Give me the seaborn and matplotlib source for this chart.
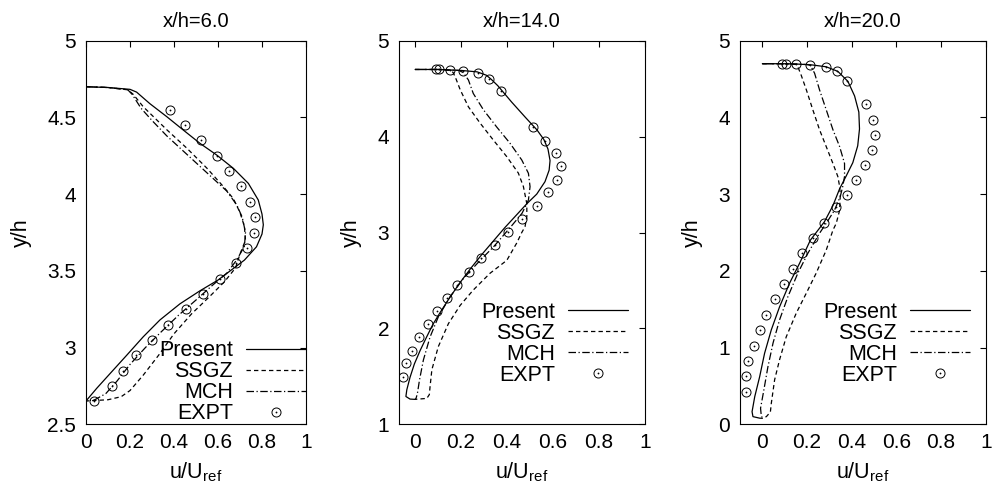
import numpy as np
import pandas as pd
import matplotlib
matplotlib.use("Agg")
import matplotlib.pyplot as plt
import seaborn as sns
from matplotlib.ticker import FormatStrFormatter, MultipleLocator
from matplotlib.legend_handler import HandlerTuple

# ---------------- data ----------------
STATIONS = ["x/h=6.0", "x/h=14.0", "x/h=20.0"]
MODELS = ["Present", "SSGZ", "MCH", "EXPT"]

# x/h = 6.0
P1_PRESENT_U = [0.0, 0.10, 0.20, 0.23, 0.29, 0.367, 0.442, 0.518, 0.594, 0.67, 0.738, 0.783, 0.80, 0.806,
                0.80, 0.775, 0.72, 0.66, 0.60, 0.518, 0.427, 0.336, 0.26, 0.185, 0.109, 0.049, 0.0]
P1_PRESENT_Y = [4.70, 4.695, 4.683, 4.665, 4.59, 4.505, 4.418, 4.331, 4.255, 4.168, 4.07, 3.962, 3.87, 3.80,
                3.74, 3.657, 3.57, 3.505, 3.44, 3.37, 3.285, 3.18, 3.07, 2.95, 2.83, 2.735, 2.652]
P1_SSGZ_U = [0.0, 0.10, 0.19, 0.215, 0.26, 0.367, 0.458, 0.549, 0.624, 0.67, 0.70, 0.72, 0.725, 0.70,
             0.68, 0.63, 0.56, 0.48, 0.40, 0.33, 0.26, 0.20, 0.16, 0.10, 0.0]
P1_SSGZ_Y = [4.70, 4.695, 4.68, 4.65, 4.57, 4.42, 4.30, 4.17, 4.05, 3.97, 3.88, 3.79, 3.70, 3.61,
             3.52, 3.43, 3.33, 3.22, 3.09, 2.95, 2.82, 2.72, 2.68, 2.66, 2.652]
P1_MCH_U = [0.0, 0.10, 0.19, 0.21, 0.25, 0.30, 0.367, 0.458, 0.549, 0.64, 0.685, 0.71, 0.725, 0.72,
            0.685, 0.64, 0.57, 0.50, 0.42, 0.34, 0.27, 0.20, 0.14, 0.09, 0.04, 0.0]
P1_MCH_Y = [4.70, 4.695, 4.68, 4.65, 4.56, 4.48, 4.38, 4.26, 4.14, 4.02, 3.93, 3.85, 3.75, 3.66,
            3.571, 3.485, 3.40, 3.31, 3.21, 3.10, 3.00, 2.89, 2.78, 2.70, 2.66, 2.652]
P1_EXPT_U = [0.035, 0.12, 0.17, 0.226, 0.298, 0.374, 0.455, 0.533, 0.609, 0.68, 0.73, 0.764, 0.768,
             0.747, 0.706, 0.65, 0.594, 0.521, 0.452, 0.382]
P1_EXPT_Y = [2.65, 2.75, 2.85, 2.95, 3.05, 3.15, 3.25, 3.35, 3.45, 3.55, 3.65, 3.75, 3.85,
             3.95, 4.05, 4.15, 4.25, 4.35, 4.45, 4.55]

# x/h = 14.0
P2_PRESENT_U = [0.0, 0.10, 0.20, 0.27, 0.31, 0.33, 0.36, 0.42, 0.48, 0.53, 0.56, 0.578, 0.587, 0.583,
                0.565, 0.529, 0.486, 0.44, 0.39, 0.34, 0.29, 0.24, 0.19, 0.145, 0.11, 0.077, 0.048,
                0.022, -0.003, -0.022, -0.036, -0.04, -0.022, 0.0]
P2_PRESENT_Y = [4.70, 4.70, 4.69, 4.675, 4.64, 4.60, 4.53, 4.36, 4.20, 4.07, 3.97, 3.87, 3.75, 3.65,
                3.53, 3.40, 3.30, 3.18, 3.05, 2.91, 2.77, 2.62, 2.46, 2.30, 2.17, 2.04, 1.90,
                1.77, 1.63, 1.49, 1.36, 1.29, 1.263, 1.26]
P2_SSGZ_U = [0.0, 0.10, 0.15, 0.165, 0.175, 0.196, 0.232, 0.283, 0.34, 0.399, 0.449, 0.471, 0.486,
             0.486, 0.478, 0.464, 0.442, 0.399, 0.326, 0.253, 0.196, 0.145, 0.101, 0.073, 0.065,
             0.062, 0.051, 0.0]
P2_SSGZ_Y = [4.70, 4.70, 4.69, 4.67, 4.62, 4.49, 4.31, 4.14, 3.965, 3.79, 3.62, 3.48, 3.30,
             3.165, 3.06, 3.00, 2.89, 2.71, 2.575, 2.40, 2.24, 2.05, 1.81, 1.57, 1.39,
             1.31, 1.27, 1.26]
P2_MCH_U = [0.0, 0.10, 0.19, 0.21, 0.232, 0.253, 0.297, 0.355, 0.413, 0.464, 0.493, 0.50, 0.493,
            0.486, 0.465, 0.42, 0.341, 0.283, 0.21, 0.152, 0.101, 0.065, 0.036, 0.019, 0.01, 0.004, 0.0]
P2_MCH_Y = [4.70, 4.70, 4.69, 4.667, 4.59, 4.45, 4.28, 4.10, 3.93, 3.756, 3.617, 3.478, 3.34,
            3.30, 3.20, 3.07, 2.85, 2.71, 2.52, 2.33, 2.12, 1.91, 1.67, 1.46, 1.32, 1.27, 1.26]
P2_EXPT_U = [0.091, 0.106, 0.152, 0.21, 0.272, 0.32, 0.374, 0.514, 0.567, 0.612, 0.634, 0.616, 0.58,
             0.529, 0.464, 0.406, 0.348, 0.286, 0.235, 0.184, 0.138, 0.097, 0.055, 0.016, -0.014,
             -0.04, -0.053]
P2_EXPT_Y = [4.70, 4.70, 4.69, 4.684, 4.66, 4.604, 4.479, 4.10, 3.957, 3.826, 3.693, 3.547, 3.419,
             3.276, 3.138, 3.002, 2.87, 2.731, 2.585, 2.456, 2.32, 2.181, 2.046, 1.907, 1.767,
             1.636, 1.496]

# x/h = 20.0
P3_PRESENT_U = [0.0, 0.10, 0.152, 0.22, 0.286, 0.338, 0.383, 0.413, 0.432, 0.435, 0.427, 0.405, 0.376,
                0.346, 0.316, 0.278, 0.215, 0.167, 0.122, 0.077, 0.04, 0.01, -0.012, -0.034, -0.046,
                -0.042, -0.012, 0.0]
P3_PRESENT_Y = [4.70, 4.70, 4.696, 4.685, 4.66, 4.60, 4.47, 4.28, 4.07, 3.85, 3.63, 3.41, 3.24,
                3.07, 2.85, 2.64, 2.40, 2.10, 1.84, 1.53, 1.23, 0.925, 0.62, 0.36, 0.164,
                0.10, 0.08, 0.078]
P3_SSGZ_U = [0.0, 0.10, 0.152, 0.159, 0.174, 0.197, 0.226, 0.256, 0.286, 0.316, 0.338, 0.346, 0.349,
             0.346, 0.331, 0.316, 0.286, 0.241, 0.197, 0.152, 0.107, 0.077, 0.055, 0.04, 0.036,
             0.018, 0.0]
P3_SSGZ_Y = [4.70, 4.70, 4.69, 4.66, 4.55, 4.36, 4.10, 3.84, 3.62, 3.40, 3.23, 3.10, 2.99,
             2.79, 2.62, 2.53, 2.27, 1.97, 1.71, 1.45, 1.14, 0.84, 0.58, 0.27, 0.16,
             0.10, 0.078]
P3_MCH_U = [0.0, 0.10, 0.20, 0.215, 0.234, 0.256, 0.286, 0.316, 0.346, 0.368, 0.368, 0.36, 0.349,
            0.323, 0.286, 0.256, 0.204, 0.159, 0.114, 0.077, 0.048, 0.025, 0.007, -0.008, -0.005, 0.0]
P3_MCH_Y = [4.70, 4.70, 4.69, 4.68, 4.575, 4.36, 4.10, 3.84, 3.62, 3.40, 3.23, 3.10, 2.97,
            2.79, 2.62, 2.49, 2.23, 1.97, 1.66, 1.36, 1.06, 0.75, 0.45, 0.21, 0.12, 0.078]
P3_EXPT_U = [0.089, 0.107, 0.152, 0.215, 0.283, 0.334, 0.38, 0.465, 0.494, 0.503, 0.49, 0.46, 0.42,
             0.377, 0.328, 0.277, 0.226, 0.179, 0.137, 0.097, 0.055, 0.018, -0.009, -0.036, -0.063,
             -0.075, -0.075]
P3_EXPT_Y = [4.70, 4.70, 4.696, 4.683, 4.657, 4.60, 4.475, 4.171, 3.97, 3.771, 3.58, 3.38, 3.18,
             2.99, 2.828, 2.63, 2.424, 2.229, 2.028, 1.829, 1.629, 1.429, 1.229, 1.025, 0.825,
             0.626, 0.425]

XLIMS = [(0.0, 1.0), (-0.07, 1.0), (-0.1, 1.0)]
YLIMS = [(2.5, 5.0), (1.0, 5.0), (0.0, 5.0)]
YSTEPS = [0.5, 1.0, 1.0]

PANELS = [
    (P1_PRESENT_U, P1_PRESENT_Y, P1_SSGZ_U, P1_SSGZ_Y, P1_MCH_U, P1_MCH_Y, P1_EXPT_U, P1_EXPT_Y),
    (P2_PRESENT_U, P2_PRESENT_Y, P2_SSGZ_U, P2_SSGZ_Y, P2_MCH_U, P2_MCH_Y, P2_EXPT_U, P2_EXPT_Y),
    (P3_PRESENT_U, P3_PRESENT_Y, P3_SSGZ_U, P3_SSGZ_Y, P3_MCH_U, P3_MCH_Y, P3_EXPT_U, P3_EXPT_Y),
]

# ---------------- styling ----------------
sns.set_theme(style="white")
plt.rcParams["font.family"] = ["Liberation Sans", "DejaVu Sans"]
plt.rcParams["mathtext.default"] = "regular"
plt.rcParams["axes.edgecolor"] = "black"
plt.rcParams["axes.linewidth"] = 0.8
plt.rcParams["text.color"] = "black"
plt.rcParams["axes.labelcolor"] = "black"
plt.rcParams["axes.titlecolor"] = "black"

LINESTYLES = {"Present": "-", "SSGZ": (0, (3.5, 2.5)), "MCH": (0, (6, 2, 1, 2))}

fig = plt.figure(figsize=(9.94, 4.87), dpi=100)
W, H = 994, 487
AX_PX = [(86, 220), (399, 246), (740, 245.7)]
AX_BOTTOM, AX_TOP = 424.3, 40.7
LEG_ANCHOR = [(1.0, 0.0), (0.931, 0.10), (0.936, 0.10)]

for i, (pu, py, su, sy, mu, my, eu, ey) in enumerate(PANELS):
    left, width = AX_PX[i]
    ax = fig.add_axes([left / W, (H - AX_BOTTOM) / H, width / W, (AX_BOTTOM - AX_TOP) / H])

    lines = {}
    for name, u, y in [("Present", pu, py), ("SSGZ", su, sy), ("MCH", mu, my)]:
        sns.lineplot(x=u, y=y, sort=False, estimator=None, ax=ax, color="black",
                     linewidth=0.9, legend=False)
        ln = ax.lines[-1]
        ln.set_linestyle(LINESTYLES[name])
        lines[name] = ln

    expt = pd.DataFrame({"u": eu, "y": ey})
    circ, = ax.plot(expt["u"], expt["y"], linestyle="none", marker="o", markersize=6.5,
                    markerfacecolor="none", markeredgecolor="black", markeredgewidth=0.7)
    dot, = ax.plot(expt["u"], expt["y"], linestyle="none", marker="o", markersize=1.3,
                   markerfacecolor="black", markeredgecolor="black", markeredgewidth=0)

    ax.set_xlim(*XLIMS[i])
    ax.set_ylim(*YLIMS[i])
    ax.xaxis.set_major_locator(MultipleLocator(0.2))
    ax.yaxis.set_major_locator(MultipleLocator(YSTEPS[i]))
    ax.xaxis.set_major_formatter(FormatStrFormatter("%g"))
    ax.yaxis.set_major_formatter(FormatStrFormatter("%g"))
    ax.tick_params(direction="in", length=4, width=0.8, top=True, right=True,
                   labelsize=15, colors="black", pad=7)
    ax.tick_params(axis="x", pad=6)

    ax.set_title(STATIONS[i], fontsize=14.5, pad=10, color="black")
    ax.set_xlabel(r"u/U$_{ref}$", fontsize=15.5, labelpad=6, color="black")
    ax.set_ylabel("y/h", fontsize=15.5, labelpad=11, color="black")
    for sp in ax.spines.values():
        sp.set_visible(True)
        sp.set_color("black")

    leg = ax.legend(handles=[lines["Present"], lines["SSGZ"], lines["MCH"], (circ, dot)],
                    labels=MODELS, loc="lower right", bbox_to_anchor=LEG_ANCHOR[i],
                    markerfirst=False, frameon=False, fontsize=15.5, handlelength=2.8,
                    handletextpad=0.6, labelspacing=0.0, borderpad=0, borderaxespad=0,
                    handler_map={tuple: HandlerTuple(ndivide=1)})
    for t in leg.get_texts():
        t.set_color("black")

fig.savefig("out.png", dpi=100, facecolor="white")
